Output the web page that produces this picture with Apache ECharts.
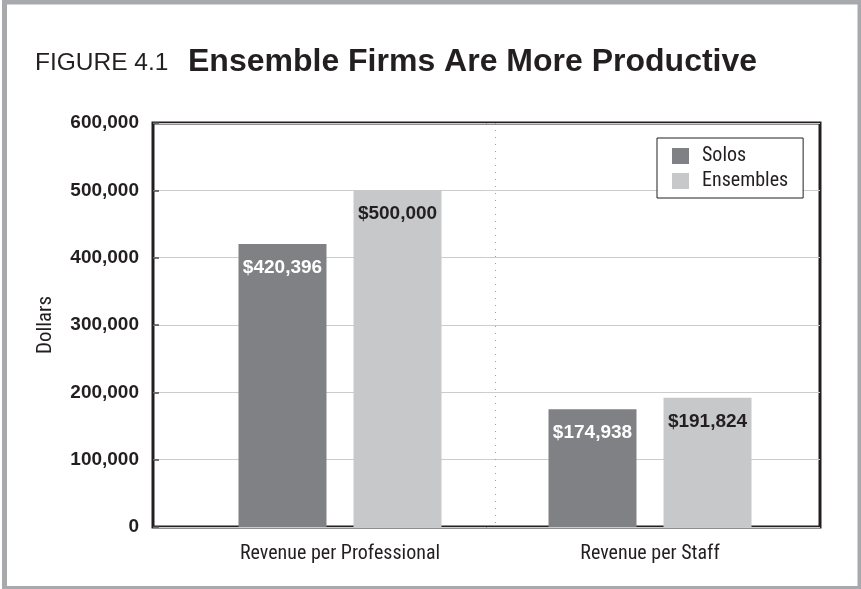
<!DOCTYPE html>
<html>
<head>
<meta charset="utf-8">
<script src="https://cdn.jsdelivr.net/npm/echarts@6/dist/echarts.min.js"></script>
<style>
html,body{margin:0;padding:0;background:#fff;}
#chart{width:861px;height:589px;}
</style>
</head>
<body>
<div id="chart"></div>
<script>
var categories = ['Revenue per Professional', 'Revenue per Staff'];
var seriesNames = ['Solos', 'Ensembles'];
var solosValues = [420396, 174938];
var ensemblesValues = [500000, 191824];
var yTicks = [0, 100000, 200000, 300000, 400000, 500000, 600000];
var figureLabel = 'FIGURE 4.1';
var titleText = 'Ensemble Firms Are More Productive';
var yAxisName = 'Dollars';

var NARROW = "'Liberation Sans Narrow', 'Roboto Condensed', 'Liberation Sans', sans-serif";
var WIDE = "'Liberation Sans', Arial, sans-serif";
var INK = '#231f20';

function commas(v) { return Number(v).toLocaleString('en-US'); }

var chart = echarts.init(document.getElementById('chart'), null, {renderer: 'canvas'});
var option = {
  backgroundColor: '#ffffff',
  animation: false,
  graphic: [
    {type: 'rect', shape: {x: 4.5, y: 2, width: 855.5, height: 586.5},
     style: {fill: 'none', stroke: '#a7a9ac', lineWidth: 5}, silent: true, z: 100},
    {type: 'text', x: 35, y: 63, style: {text: figureLabel, font: '24.5px ' + WIDE, fill: INK, verticalAlign: 'middle'}},
    {type: 'text', x: 188, y: 62, style: {text: titleText, font: 'bold 32px ' + WIDE, fill: INK, verticalAlign: 'middle'}}
  ],
  legend: {
    data: seriesNames,
    orient: 'vertical',
    left: 657, top: 138,
    borderColor: INK, borderWidth: 1,
    backgroundColor: '#fff',
    padding: [8, 15, 7, 15],
    itemWidth: 17, itemHeight: 16, itemGap: 5,
    icon: 'rect',
    textStyle: {fontFamily: NARROW, fontSize: 20, color: INK, padding: [0, 0, 0, 8]}
  },
  grid: [
    {left: 153, top: 123, right: 41, bottom: 62, show: true, borderColor: INK, borderWidth: 3, backgroundColor: 'transparent'},
    {left: 185, top: 123, right: 56, bottom: 62}
  ],
  xAxis: [
    {type: 'category', gridIndex: 0, data: categories, show: false},
    {type: 'category', gridIndex: 1, data: categories, boundaryGap: true,
     axisLine: {show: false}, axisTick: {show: false},
     axisLabel: {fontFamily: NARROW, fontSize: 20, color: INK, margin: 17},
     splitLine: {show: true, showMinLine: false, showMaxLine: false,
                 lineStyle: {color: '#a0a0a0', type: [1, 6], width: 1}}}
  ],
  yAxis: [
    {type: 'value', gridIndex: 0, min: yTicks[0], max: yTicks[yTicks.length - 1], interval: yTicks[1] - yTicks[0],
     name: yAxisName, nameLocation: 'middle', nameGap: 97,
     nameTextStyle: {fontFamily: NARROW, fontSize: 21, color: INK},
     axisLine: {show: false},
     axisTick: {show: true, inside: true, length: 6, lineStyle: {color: '#4d4d4d', width: 1.5}},
     splitLine: {show: true, lineStyle: {color: '#cccccc', width: 1}},
     axisLabel: {fontFamily: WIDE, fontWeight: 'bold', fontSize: 19, color: INK, margin: 14, formatter: commas}},
    {type: 'value', gridIndex: 1, min: yTicks[0], max: yTicks[yTicks.length - 1], show: false, splitLine: {show: false}}
  ],
  series: [
    {name: seriesNames[0], type: 'bar', xAxisIndex: 1, yAxisIndex: 1, data: solosValues,
     barWidth: 88, barGap: '30.7%',
     itemStyle: {color: '#808184'},
     label: {show: true, position: 'insideTop', distance: 14, color: '#ffffff',
             fontFamily: WIDE, fontWeight: 'bold', fontSize: 19,
             formatter: function (p) { return '$' + commas(p.value); }}},
    {name: seriesNames[1], type: 'bar', xAxisIndex: 1, yAxisIndex: 1, data: ensemblesValues,
     barWidth: 88,
     itemStyle: {color: '#c7c8ca'},
     label: {show: true, position: 'insideTop', distance: 14, color: INK,
             fontFamily: WIDE, fontWeight: 'bold', fontSize: 19,
             formatter: function (p) { return '$' + commas(p.value); }}}
  ]
};
chart.setOption(option);
</script>
</body>
</html>
